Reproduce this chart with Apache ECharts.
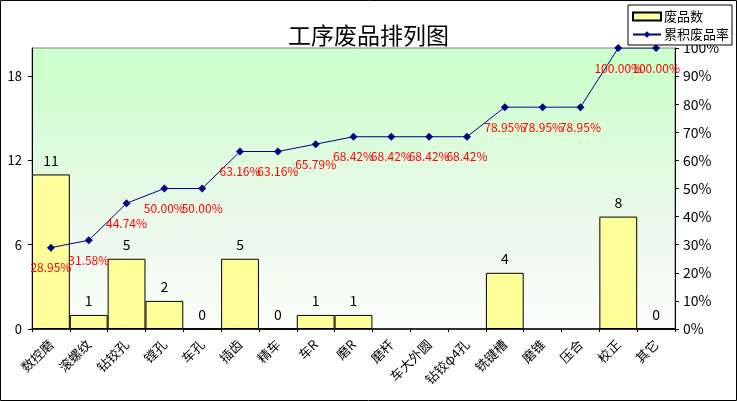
<!DOCTYPE html>
<html>
<head>
<meta charset="utf-8">
<title>工序废品排列图</title>
<script src="https://cdn.jsdelivr.net/npm/echarts@6/dist/echarts.min.js"></script>
<style>
  html, body { margin: 0; padding: 0; background: #fff; }
  #chart { width: 737px; height: 401px; }
</style>
</head>
<body>
<div id="chart"></div>
<script>
// 工序名称
const processes = ['数控磨', '滚螺纹', '钻铰孔', '镗孔', '车孔', '插齿', '精车', '车R', '磨R',
  '磨杆', '车大外圆', '钻铰φ4孔', '铣键槽', '磨锥', '压合', '校正', '其它'];
// 废品数（空格子用 null）
const scrapCounts = [11, 1, 5, 2, 0, 5, 0, 1, 1, null, null, null, 4, null, null, 8, 0];
// 累积废品率 (%)
const cumulativeRate = [28.95, 31.58, 44.74, 50.00, 50.00, 63.16, 63.16, 65.79, 68.42,
  68.42, 68.42, 68.42, 78.95, 78.95, 78.95, 100.00, 100.00];
// 坐标轴刻度
const countTicks = [0, 6, 12, 18];

const FONT = '"Noto Sans CJK SC", "Liberation Sans", sans-serif';

const chart = echarts.init(document.getElementById('chart'));

chart.setOption({
  animation: false,
  textStyle: { fontFamily: FONT },
  title: {
    text: '工序废品排列图',
    left: 'center',
    top: 19,
    textStyle: { fontSize: 23, fontWeight: 'normal', color: '#000', fontFamily: FONT }
  },
  legend: {
    orient: 'vertical',
    left: 628,
    top: 5,
    width: 100,
    padding: [5, 3, 4, 4],
    itemGap: 5,
    itemWidth: 28,
    itemHeight: 8,
    backgroundColor: '#fff',
    borderColor: '#000',
    borderWidth: 1,
    borderRadius: 0,
    textStyle: { fontSize: 13, color: '#000', padding: [0, 0, 0, -2] },
    data: [
      { name: '废品数', icon: 'rect' },
      { name: '累积废品率' }
    ]
  },
  graphic: [{
    type: 'rect',
    silent: true,
    shape: { x: 0.5, y: 0.5, width: 736, height: 400 },
    style: { fill: 'none', stroke: '#000', lineWidth: 1 }
  }],
  grid: {
    left: 32,
    right: 62,
    top: 48,
    bottom: 72,
    show: true,
    borderColor: '#808080',
    borderWidth: 1,
    backgroundColor: new echarts.graphic.LinearGradient(0, 0, 0, 1, [
      { offset: 0, color: '#ccffcc' },
      { offset: 0.08, color: '#ccffcc' },
      { offset: 0.55, color: '#e8f8e8' },
      { offset: 1, color: '#fbfefb' }
    ])
  },
  xAxis: {
    type: 'category',
    data: processes,
    axisLine: { lineStyle: { color: '#000', width: 1.5 } },
    axisTick: { show: true, length: 3, lineStyle: { color: '#000' } },
    axisLabel: {
      rotate: 45,
      interval: 0,
      margin: 13,
      fontSize: 13,
      color: '#000'
    }
  },
  yAxis: [{
    type: 'value',
    min: 0,
    max: 20,
    interval: 6,
    splitLine: { show: false },
    axisLine: { show: true, lineStyle: { color: '#000' } },
    axisTick: { show: true, length: 4, customValues: countTicks, lineStyle: { color: '#000' } },
    axisLabel: { customValues: countTicks, fontSize: 13, color: '#000', margin: 10 }
  }, {
    type: 'value',
    min: 0,
    max: 100,
    interval: 10,
    splitLine: { show: false },
    axisLine: { show: true, lineStyle: { color: '#000' } },
    axisTick: { show: true, length: 4, lineStyle: { color: '#000' } },
    axisLabel: { formatter: '{value}%', fontSize: 14, color: '#000', margin: 8 }
  }],
  series: [{
    name: '废品数',
    type: 'bar',
    data: scrapCounts,
    barCategoryGap: '0%',
    itemStyle: { color: '#ffff99', borderColor: '#000', borderWidth: 1 },
    label: {
      show: true,
      position: 'top',
      distance: 7,
      fontSize: 14,
      color: '#000'
    }
  }, {
    name: '累积废品率',
    type: 'line',
    yAxisIndex: 1,
    data: cumulativeRate,
    symbol: 'diamond',
    symbolSize: 8,
    lineStyle: { color: '#000080', width: 1 },
    itemStyle: { color: '#000080' },
    label: {
      show: true,
      position: 'bottom',
      distance: 10,
      fontSize: 12,
      color: '#ff0000',
      formatter: p => p.value.toFixed(2) + '%'
    }
  }]
});
</script>
</body>
</html>
